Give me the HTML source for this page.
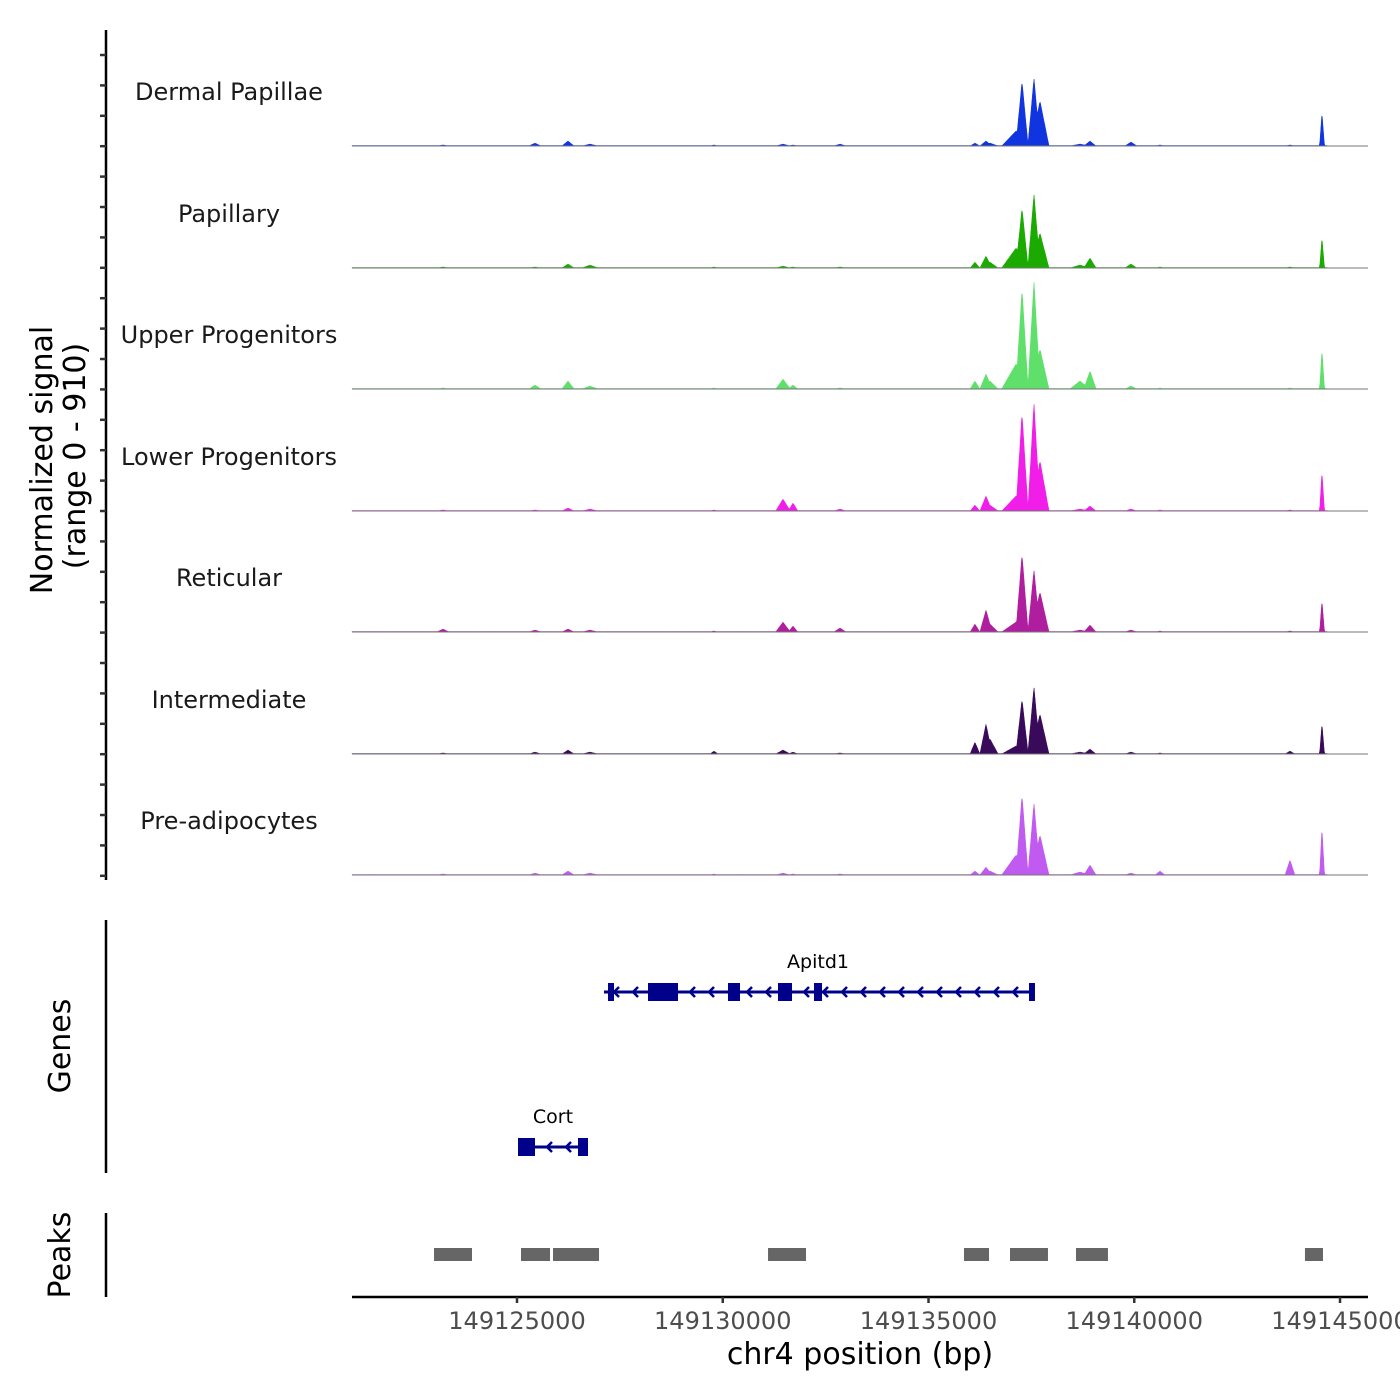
<!DOCTYPE html>
<html><head><meta charset="utf-8"><style>
body{margin:0;background:#fff}
svg{display:block;font-family:"DejaVu Sans","Liberation Sans",sans-serif}
</style></head><body>
<svg id="c" width="1400" height="1400" viewBox="0 0 1400 1400" xmlns="http://www.w3.org/2000/svg"></svg>
<script>
const trackNames=["Dermal Papillae","Papillary","Upper Progenitors","Lower Progenitors","Reticular","Intermediate","Pre-adipocytes"];
const trackColors=["#1035e0","#1aaa00","#5ee06a","#f01ee8","#b01ea0","#3a0a5a","#c05af0"];
const peakCenters=[149137272,149137563,149137126,149137709,149136397,149136129,149136494,149138924,149138681,149139920,149144562,149143784,149140625,149126239,149126774,149125437,149123202,149131464,149131707,149132849,149129787];
const peakHalfWidths=[150,150,350,220,150,120,200,150,250,150,60,120,120,150,200,150,150,180,120,150,100];
const sigDP=[501,524,116,347,39,23,23,39,15,31,262,8,8,39,15,23,8,15,8,15,8];
const sigPap=[463,571,154,270,92,46,46,77,23,31,239,8,8,31,23,8,8,15,8,8,8];
const sigUP=[771,833,193,308,116,62,62,139,62,23,308,8,8,62,23,31,8,77,31,8,8];
const sigLP=[756,833,116,386,116,46,46,39,15,15,308,8,8,23,15,8,8,92,62,15,8];
const sigRet=[601,478,77,308,170,62,62,54,15,15,247,8,8,23,15,15,23,77,46,31,8];
const sigInt=[424,517,62,308,231,92,116,39,15,15,239,23,8,31,15,15,8,31,15,8,23];
const sigPA=[617,555,154,308,62,31,31,77,23,15,370,116,31,31,15,15,8,15,8,8,8];
const signals=[sigDP,sigPap,sigUP,sigLP,sigRet,sigInt,sigPA];
const xTicks=[149125000,149130000,149135000,149140000,149145000];
const xTickLabels=["149125000","149130000","149135000","149140000","149145000"];
const peakStarts=[149122983,149125097,149125875,149131100,149135862,149136980,149138584,149144148];
const peakEnds=[149123906,149125802,149126993,149132023,149136470,149137903,149139361,149144586];
const geneNames=["Apitd1","Cort"];
const geneStarts=[149127114,149125024];
const geneEnds=[149137515,149126725];
const exonGene=[0,0,0,0,0,0,1,1];
const exonStarts=[149127211,149128183,149130127,149131342,149132217,149137442,149125024,149126482];
const exonEnds=[149127357,149128912,149130419,149131683,149132412,149137587,149125437,149126725];

const X0=352,X1=1368,BP0=149120990,BP1=149145680;
const xs=bp=>X0+(bp-BP0)/(BP1-BP0)*(X1-X0);
const YMAX=910,TH=118;
const baselines=[146,268,389,511,632,754,875];
const svg=document.getElementById('c');
const NS="http://www.w3.org/2000/svg";
function mk(t,a,p){const e=document.createElementNS(NS,t);for(const k in a)e.setAttribute(k,a[k]);(p||svg).appendChild(e);return e;}

let ax=mk('line',{x1:106,y1:30,x2:106,y2:880,stroke:'#000','stroke-width':2.5});

for(let y=55;y<=880;y+=30.4){let t=mk('line',{x1:100,y1:y,x2:106,y2:y,stroke:'#333','stroke-width':2.5});
}
let yt=mk('text',{transform:'translate(52,460) rotate(-90)','text-anchor':'middle','font-size':30});yt.textContent='Normalized signal';

let yt2=mk('text',{transform:'translate(85,456) rotate(-90)','text-anchor':'middle','font-size':30});yt2.textContent='(range 0 - 910)';


for(let t=0;t<7;t++){
  const b=baselines[t],vals=signals[t];
  let d=`M${X0},${b}`;
  for(let bp=BP0;bp<=149144700;bp+=15){
    let v=4;
    for(let i=0;i<peakCenters.length;i++){const dd=Math.abs(bp-peakCenters[i]);if(dd<peakHalfWidths[i]){v=Math.max(v,vals[i]*(1-dd/peakHalfWidths[i]));}}
    d+=`L${xs(bp).toFixed(1)},${(b-v/YMAX*TH).toFixed(1)}`;
  }
  d+=`L${xs(149144700)},${b}Z`;
  let p=mk('path',{d,fill:trackColors[t],stroke:trackColors[t],'stroke-width':0.5});
  
  let l=mk('line',{x1:X0,y1:b,x2:X1,y2:b,stroke:'#777','stroke-width':1});
  
  let tx=mk('text',{x:229,y:b-46,'text-anchor':'middle','font-size':24,fill:'#1a1a1a'});tx.textContent=trackNames[t];
  
}

let ga=mk('line',{x1:106,y1:920,x2:106,y2:1173,stroke:'#000','stroke-width':2.5});

let gt=mk('text',{transform:'translate(70,1046) rotate(-90)','text-anchor':'middle','font-size':30});gt.textContent='Genes';

const geneY=[992,1147];
for(let g=0;g<2;g++){
  const y=geneY[g],a=xs(geneStarts[g]),e=xs(geneEnds[g]);
  let l=mk('line',{x1:a,y1:y,x2:e,y2:y,stroke:'#00008b','stroke-width':3});
  
  for(let x=a+10;x<e-6;x+=19){let ar=mk('path',{d:`M${x+5},${y-5}L${x},${y}L${x+5},${y+5}`,fill:'none',stroke:'#00008b','stroke-width':2.5});
    }
  let tx=mk('text',{x:(a+e)/2,y:y-24,'text-anchor':'middle','font-size':19});tx.textContent=geneNames[g];
  
}
for(let i=0;i<exonStarts.length;i++){
  const y=geneY[exonGene[i]],a=xs(exonStarts[i]),e=xs(exonEnds[i]);
  let r=mk('rect',{x:a,y:y-9,width:Math.max(e-a,5),height:18,fill:'#00008b'});
  
}

let pa=mk('line',{x1:106,y1:1213,x2:106,y2:1297,stroke:'#000','stroke-width':2.5});

let pt=mk('text',{transform:'translate(70,1255) rotate(-90)','text-anchor':'middle','font-size':30});pt.textContent='Peaks';

for(let i=0;i<peakStarts.length;i++){
  let r=mk('rect',{x:xs(peakStarts[i]),y:1248,width:xs(peakEnds[i])-xs(peakStarts[i]),height:13,fill:'#666'});
  
}

let xa=mk('line',{x1:X0,y1:1297,x2:X1,y2:1297,stroke:'#000','stroke-width':2.5});

for(let i=0;i<xTicks.length;i++){
  const x=xs(xTicks[i]);
  let t=mk('line',{x1:x,y1:1297,x2:x,y2:1303,stroke:'#333','stroke-width':2.5});
  
  let tx=mk('text',{x:x,y:1329,'text-anchor':'middle','font-size':24,fill:'#4d4d4d'});tx.textContent=xTickLabels[i];
  
}
let xt=mk('text',{x:860,y:1364,'text-anchor':'middle','font-size':30});xt.textContent='chr4 position (bp)';

</script>
</body></html>
